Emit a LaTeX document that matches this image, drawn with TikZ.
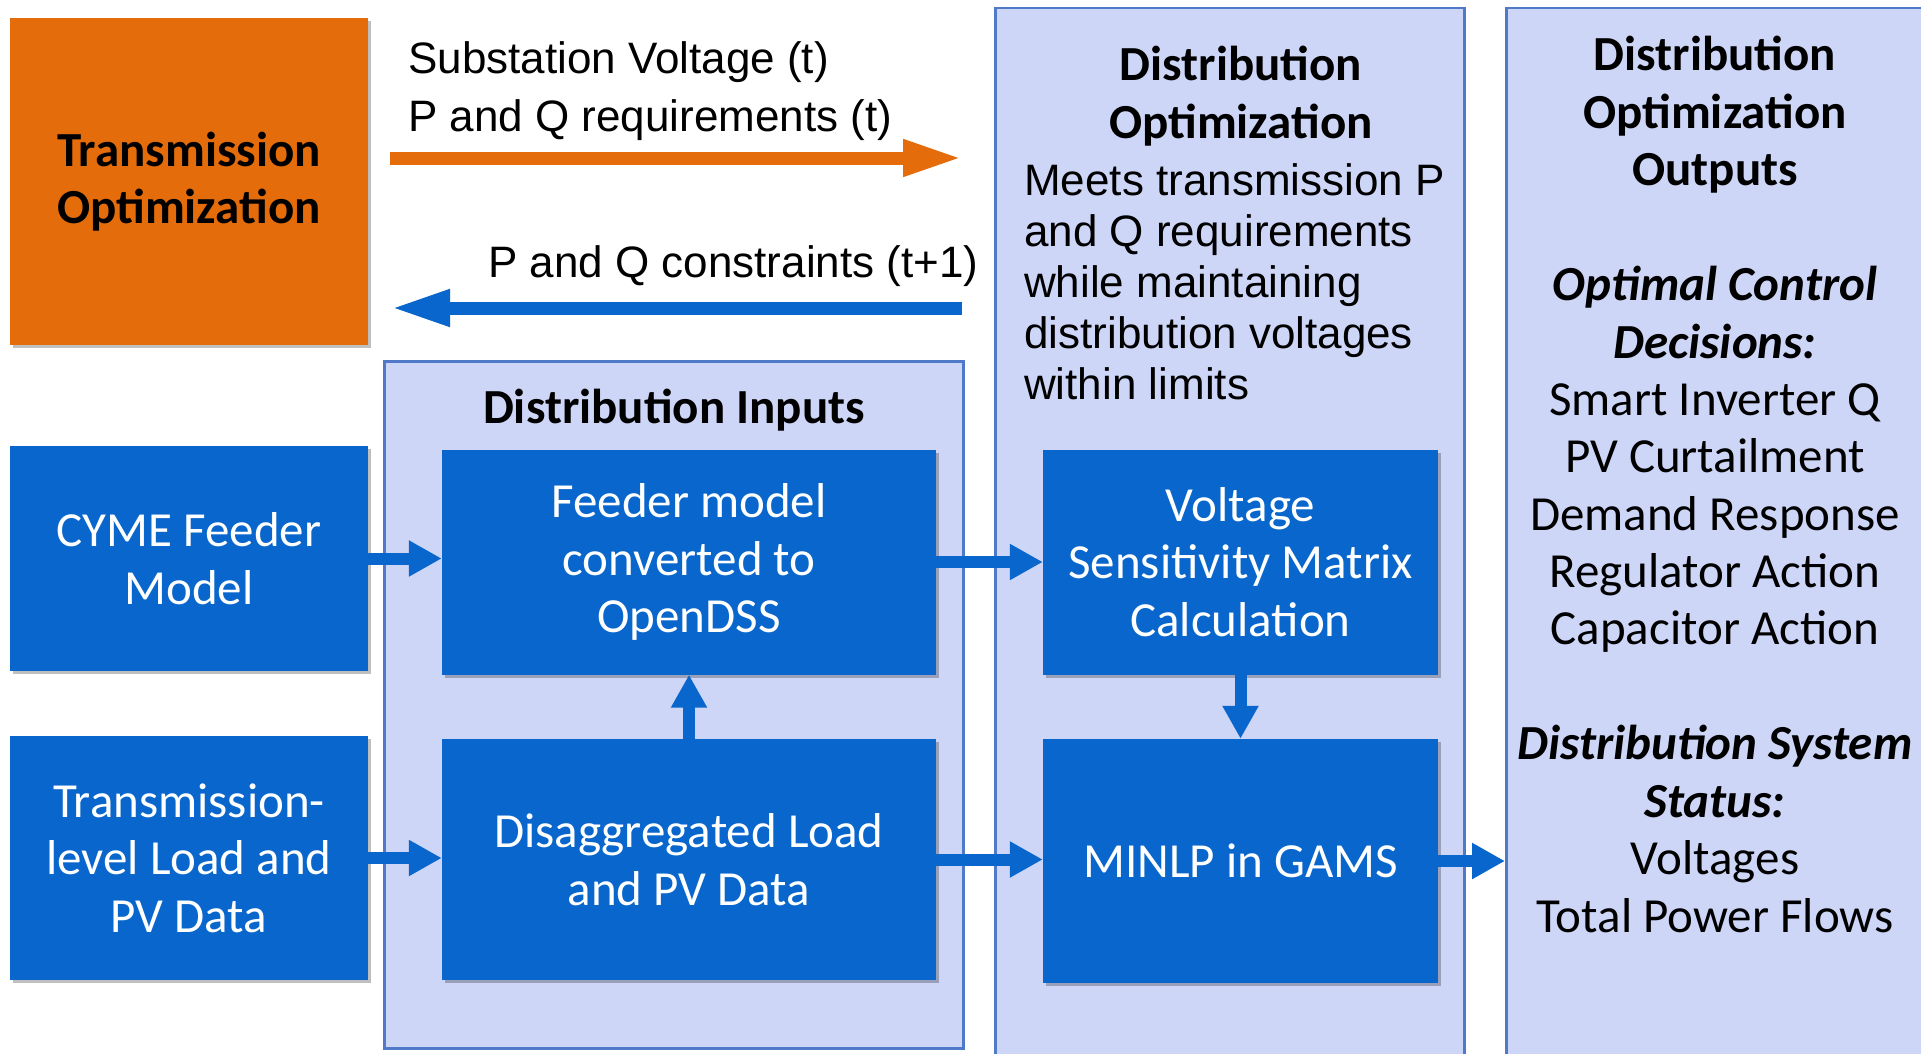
\documentclass[tikz,border=0pt]{standalone}
\usepackage{fontspec}
\setmainfont{Liberation Sans}
\newfontfamily\calib{Carlito}
\usetikzlibrary{arrows.meta,shadows}
\definecolor{orng}{RGB}{228,108,10}
\definecolor{bbox}{RGB}{8,102,204}
\definecolor{panelfill}{RGB}{206,214,247}
\definecolor{panelline}{RGB}{80,122,200}
\begin{document}
\begin{tikzpicture}[x=1pt,y=-1pt,
  bluebox/.style={rectangle, fill=bbox, text=white, inner sep=0pt, align=center,
    font=\calib\fontsize{49}{57.6}\selectfont,
    drop shadow={shadow xshift=3pt, shadow yshift=-3pt, opacity=0.25, fill=black}},
  orangebox/.style={rectangle, fill=orng, text=black, inner sep=0pt, align=center,
    font=\calib\bfseries\fontsize{49}{57.6}\selectfont,
    drop shadow={shadow xshift=3pt, shadow yshift=-3pt, opacity=0.25, fill=black}},
  panelbox/.style={rectangle, fill=panelfill, draw=panelline, line width=2.5pt, inner sep=0pt},
  arial/.style={inner sep=0pt, font=\fontsize{44}{57.6}\selectfont},
  calibtxt/.style={inner sep=0pt, font=\calib\fontsize{49}{57.4}\selectfont},
  boxarrow/.style={draw=bbox, line width=12pt, -{Triangle[length=33pt,width=34pt]}},
  toparrow/.style={line width=13pt, -{Triangle[length=59pt,width=34pt]}}
]
\useasboundingbox (0,0) rectangle (1921,1054);
\fill[white] (0,0) rectangle (1921,1054);

% panels
\node[panelbox, minimum width=469pt, minimum height=1060pt, anchor=north west] (distopt) at (994,7) {};
\node[panelbox, minimum width=425pt, minimum height=1060pt, anchor=north west] (outputs) at (1505,7) {};
\node[panelbox, minimum width=579pt, minimum height=687pt, anchor=north west] (inputs) at (383,360) {};

% boxes
\node[orangebox, minimum width=358pt, minimum height=327pt] (trans) at (189,181.5) {Transmission\\Optimization};
\node[bluebox, minimum width=358pt, minimum height=225pt] (cyme) at (189,558.5) {CYME Feeder\\Model};
\node[bluebox, minimum width=358pt, minimum height=244pt] (tload) at (189,858) {Transmission-\\level Load and\\PV Data};
\node[bluebox, minimum width=494pt, minimum height=225pt] (feeder) at (689,562) {Feeder model\\converted to\\OpenDSS};
\node[bluebox, minimum width=494pt, minimum height=241pt] (disagg) at (689,859.5) {Disaggregated Load\\and PV Data};
\node[bluebox, minimum width=395pt, minimum height=225pt] (volt) at (1240.5,562) {Voltage\\Sensitivity Matrix\\Calculation};
\node[bluebox, minimum width=395pt, minimum height=244pt] (minlp) at (1240.5,861) {MINLP in GAMS};

% panel titles and texts
\node[calibtxt, font=\calib\bfseries\fontsize{49}{57.6}\selectfont, anchor=base] (intitle) at (674,423) {Distribution Inputs};
\node[calibtxt, anchor=base] (dotitle) at (1241,81)
  {\parbox[t]{460pt}{\centering\bfseries Distribution\\Optimization}};
\node[arial, font=\fontsize{44}{51}\selectfont, anchor=base west] (dobody) at (1024,195)
  {\parbox[t]{440pt}{\raggedright Meets transmission P\\and Q requirements\\while maintaining\\distribution voltages\\within limits}};
\node[calibtxt, anchor=base] (outtxt) at (1715,71)
  {\parbox[t]{415pt}{\centering
   {\bfseries Distribution\\Optimization\\Outputs}\\[57.4pt]
   {\bfseries\itshape Optimal Control\\Decisions:}\\
   Smart Inverter Q\\PV Curtailment\\Demand Response\\Regulator Action\\Capacitor Action\\[57.4pt]
   {\bfseries\itshape Distribution System\\Status:}\\
   Voltages\\Total Power Flows}};

% top arrows
\coordinate (oa1) at (390,158);
\coordinate (oa2) at (962,158);
\coordinate (ba1) at (962,308);
\coordinate (ba2) at (391,308);
\draw[toparrow, draw=orng] (oa1) -- (oa2);
\draw[toparrow, draw=bbox] (ba1) -- (ba2);
\node[arial, anchor=base west] (toplbl) at (408,74)
  {\parbox[t]{560pt}{\raggedright Substation Voltage (t)\\P and Q requirements (t)}};
\node[arial, anchor=base west] (botlbl) at (488,277) {P and Q constraints (t+1)};

% connectors
\draw[boxarrow] (cyme.east) -- (cyme.east -| feeder.west);
\draw[boxarrow] (tload.east) -- (tload.east -| disagg.west);
\draw[boxarrow] (feeder.east) -- (feeder.east -| volt.west);
\draw[boxarrow] (disagg.east) -- (disagg.east -| minlp.west);
\draw[boxarrow] (disagg.north) -- (disagg.north |- feeder.south);
\draw[boxarrow] (volt.south) -- (volt.south |- minlp.north);
\draw[boxarrow] (minlp.east) -- (minlp.east -| outputs.west);
\end{tikzpicture}
\end{document}
